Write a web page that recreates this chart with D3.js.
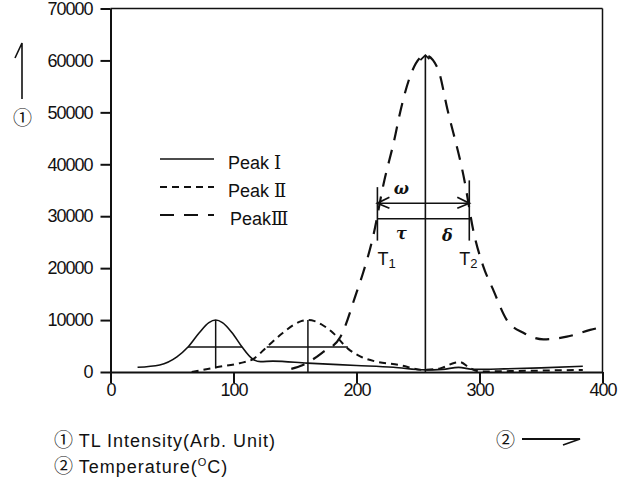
<!DOCTYPE html>
<html>
<head>
<meta charset="utf-8">
<script src="https://cdn.jsdelivr.net/npm/d3@7"></script>
<style>
body { margin: 0; background: #fff; }
svg { display: block; }
</style>
</head>
<body>
<svg width="627" height="481"></svg>
<script>
// glow curve: temperature (degC) and TL intensity for each deconvolved peak
var peak1T = [22, 40, 54, 63, 72, 80, 85.5, 91, 99, 107, 115, 122, 132, 160, 200, 230, 256, 270, 283, 295, 320, 350, 384];
var peak1I = [900, 1350, 2900, 4800, 7500, 9500, 10000, 9500, 7500, 4800, 2600, 2000, 2100, 1700, 1250, 900, 400, 500, 900, 500, 600, 800, 1100];

var peak2T = [66, 86, 105, 116, 127, 140, 149, 155, 160.5, 166, 172, 181, 193, 203, 216, 235, 254, 268, 280, 284, 292, 300, 330, 384];
var peak2I = [0, 900, 1700, 2500, 4800, 7500, 9100, 9800, 10000, 9800, 9100, 7500, 4500, 3000, 2000, 1350, 400, 700, 1800, 1900, 800, 100, 200, 400];

var peak3T = [147, 156, 165, 172, 187, 200, 205.5, 213.6, 222, 231, 235, 244, 256, 266, 274, 288, 295, 303, 311, 322, 336, 352, 371, 390, 397];
var peak3I = [600, 1300, 2500, 3700, 6800, 15300, 19200, 26200, 36200, 45000, 49500, 57200, 61000, 58500, 50500, 36600, 27200, 20400, 15900, 10100, 7500, 6300, 6800, 8100, 8500];

var xTicks = [0, 100, 200, 300, 400];
var yTicks = [0, 10000, 20000, 30000, 40000, 50000, 60000, 70000];

var legendNames = ["Peak ", "Peak ", "Peak"];
var legendNumerals = ["\u2160", "\u2161", "\u2162"];

// half-maximum markers for peaks I and II
var markCenter = [85.5, 160.5];
var markTop = [10000, 10000];
var markBottom = [700, 0];
var markHalf = [4800, 4800];
var markLeft = [63, 127];
var markRight = [107, 193];

// peak III: maximum and the T1 / T2 width construction
var peak3Center = 256, peak3Max = 61000;
var t1 = 217, t2 = 291.7;
var omegaLevel = 32500, baseLevel = 29500;
var t1Top = 35600, t2Top = 36900, tBottom = 25300;

var svg = d3.select("svg");
var ink = "#111";
var numFont = "'Liberation Sans', sans-serif";
var circFont = "'Noto Sans CJK KR', 'DejaVu Sans', sans-serif";

var x = d3.scaleLinear().domain([0, 400]).range([110.5, 602.5]);
var y = d3.scaleLinear().domain([0, 70000]).range([372, 8.5]);

// frame: top and right edges
svg.append("line").attr("x1", x(0)).attr("x2", x(400)).attr("y1", y(70000)).attr("y2", y(70000))
    .attr("stroke", ink).attr("stroke-width", 1.5);
svg.append("line").attr("x1", x(400)).attr("x2", x(400)).attr("y1", y(70000)).attr("y2", y(0))
    .attr("stroke", ink).attr("stroke-width", 1.5);

var gx = svg.append("g").attr("transform", "translate(0," + y(0) + ")")
    .call(d3.axisBottom(x).tickValues(xTicks).tickFormat(d3.format("d"))
        .tickSize(11).tickSizeOuter(0).tickPadding(0));
var gy = svg.append("g").attr("transform", "translate(" + x(0) + ",0)")
    .call(d3.axisLeft(y).tickValues(yTicks).tickFormat(d3.format("d"))
        .tickSize(10).tickSizeOuter(0).tickPadding(8));

[gx, gy].forEach(function (g) {
    g.select(".domain").attr("stroke", ink).attr("stroke-width", 2);
    g.selectAll(".tick line").attr("stroke", ink).attr("stroke-width", 2);
    g.selectAll(".tick text").attr("fill", ink).style("font-family", numFont)
        .style("font-size", "18px").style("letter-spacing", "-1px");
});

function pairs(ts, vs) {
    return ts.map(function (t, i) { return [t, vs[i]]; });
}

var line = d3.line()
    .x(function (d) { return x(d[0]); })
    .y(function (d) { return y(d[1]); })
    .curve(d3.curveMonotoneX);

var series = [
    { data: pairs(peak1T, peak1I), dash: null, width: 1.6 },
    { data: pairs(peak2T, peak2I), dash: "7,5", width: 2 },
    { data: pairs(peak3T, peak3I), dash: "14,10", width: 2.2 }
];

series.forEach(function (s) {
    svg.append("path").datum(s.data)
        .attr("fill", "none").attr("stroke", ink)
        .attr("stroke-width", s.width)
        .attr("stroke-dasharray", s.dash)
        .attr("d", line);
});

// FWHM construction for peaks I and II
markCenter.forEach(function (c, i) {
    svg.append("line").attr("x1", x(c)).attr("x2", x(c))
        .attr("y1", y(markTop[i])).attr("y2", y(markBottom[i]))
        .attr("stroke", ink).attr("stroke-width", 1.5);
    svg.append("line").attr("x1", x(markLeft[i])).attr("x2", x(markRight[i]))
        .attr("y1", y(markHalf[i])).attr("y2", y(markHalf[i]))
        .attr("stroke", ink).attr("stroke-width", 1.5);
});

// peak III centre line with arrow tip
svg.append("line").attr("x1", x(peak3Center)).attr("x2", x(peak3Center))
    .attr("y1", y(peak3Max)).attr("y2", y(0))
    .attr("stroke", ink).attr("stroke-width", 1.6);
svg.append("path")
    .attr("d", "M" + (x(peak3Center) - 5) + "," + (y(peak3Max) + 5) + "L" + x(peak3Center) + "," + y(peak3Max) +
        "L" + (x(peak3Center) + 4) + "," + (y(peak3Max) + 4))
    .attr("fill", "none").attr("stroke", ink).attr("stroke-width", 1.8);

// T1 / T2 verticals and the omega double arrow
[[t1, t1Top], [t2, t2Top]].forEach(function (d) {
    svg.append("line").attr("x1", x(d[0])).attr("x2", x(d[0]))
        .attr("y1", y(d[1])).attr("y2", y(tBottom))
        .attr("stroke", ink).attr("stroke-width", 1.6);
});
svg.append("line").attr("x1", x(t1)).attr("x2", x(t2))
    .attr("y1", y(omegaLevel)).attr("y2", y(omegaLevel))
    .attr("stroke", ink).attr("stroke-width", 1.6);
svg.append("line").attr("x1", x(t1)).attr("x2", x(t2))
    .attr("y1", y(baseLevel)).attr("y2", y(baseLevel))
    .attr("stroke", ink).attr("stroke-width", 1.6);

var ay = y(omegaLevel);
svg.append("path")
    .attr("d", "M" + (x(t1) + 12) + "," + (ay - 6) + "L" + x(t1) + "," + ay + "L" + (x(t1) + 12) + "," + (ay + 5) +
        "M" + (x(t2) - 12) + "," + (ay - 6) + "L" + x(t2) + "," + ay + "L" + (x(t2) - 12) + "," + (ay + 5))
    .attr("fill", "none").attr("stroke", ink).attr("stroke-width", 1.8);

var greek = svg.append("g").attr("fill", ink)
    .style("font-family", "'DejaVu Serif', serif").style("font-style", "italic")
    .style("font-weight", "bold").style("font-size", "16px").attr("text-anchor", "middle");
greek.append("text").attr("x", x((t1 + peak3Center) / 2)).attr("y", y(34300)).text("\u03c9");
greek.append("text").attr("x", x((t1 + peak3Center) / 2)).attr("y", y(25600)).text("\u03c4");
greek.append("text").attr("x", x((t2 + peak3Center) / 2)).attr("y", y(25200)).text("\u03b4");

[[t1, "1"], [t2, "2"]].forEach(function (d, i) {
    var t = svg.append("text").attr("x", x(d[0]) + (i === 0 ? 0 : -10)).attr("y", y(20700))
        .attr("fill", ink).style("font-family", numFont).style("font-size", "18px").text("T");
    t.append("tspan").attr("dy", 3).style("font-size", "13px").text(d[1]);
});

// legend
var legend = svg.append("g").attr("transform", "translate(160,159)");
series.forEach(function (s, i) {
    var row = legend.append("g").attr("transform", "translate(0," + i * 28 + ")");
    row.append("line").attr("x1", 0).attr("x2", 54).attr("y1", 0).attr("y2", 0)
        .attr("stroke", ink).attr("stroke-width", s.width)
        .attr("stroke-dasharray", s.dash);
    var txt = row.append("text").attr("x", i === 2 ? 70 : 68).attr("y", 10)
        .attr("fill", ink).style("font-family", numFont).style("font-size", "18px")
        .text(legendNames[i]);
    txt.append("tspan").style("font-family", "'DejaVu Serif', serif").style("font-size", "18px")
        .text(legendNumerals[i]);
});

// axis captions
var caption = svg.append("g").attr("fill", ink)
    .style("font-family", numFont).style("font-size", "18px").style("letter-spacing", "1px");

function circled(sel, ch) {
    sel.append("tspan").style("font-family", circFont).style("font-size", "19px")
        .style("letter-spacing", "0px").text(ch);
}

circled(caption.append("text").attr("x", 13).attr("y", 125), "\u2460");

var c1 = caption.append("text").attr("x", 54).attr("y", 447);
circled(c1, "\u2460");
c1.append("tspan").text(" TL Intensity(Arb. Unit)");

var c2 = caption.append("text").attr("x", 54).attr("y", 473);
circled(c2, "\u2461");
c2.append("tspan").text(" Temperature(");
c2.append("tspan").attr("dy", -7).style("font-size", "11px").text("O");
c2.append("tspan").attr("dy", 7).text("C)");

circled(caption.append("text").attr("x", 496).attr("y", 447), "\u2461");

// y direction arrow
svg.append("path").attr("d", "M22,99L22,43L15,58")
    .attr("fill", "none").attr("stroke", ink).attr("stroke-width", 1.6);
// x direction arrow
svg.append("path").attr("d", "M522,439L580,439L563,445")
    .attr("fill", "none").attr("stroke", ink).attr("stroke-width", 1.8);
</script>
</body>
</html>
